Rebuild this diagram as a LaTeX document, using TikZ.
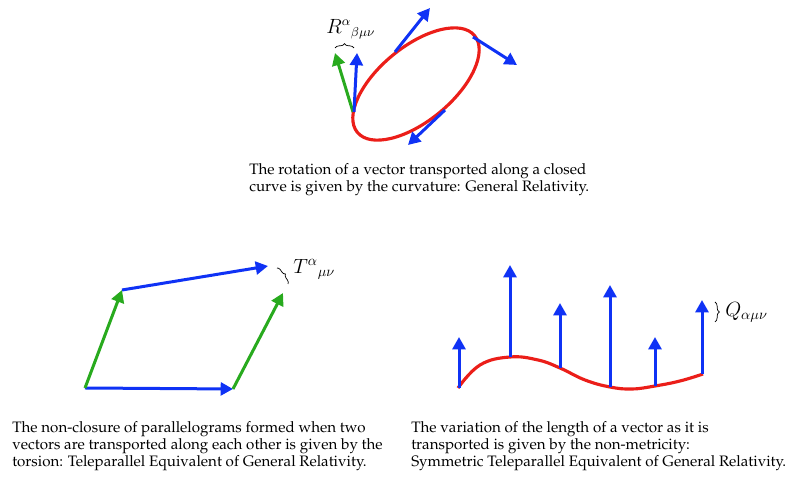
\documentclass[tikz,border=0pt]{standalone}
\usepackage[T1]{fontenc}
\usepackage{palatino}
\usetikzlibrary{arrows.meta,decorations.pathreplacing}
\definecolor{vblue}{RGB}{15,50,245}
\definecolor{vgreen}{RGB}{40,170,30}
\definecolor{vred}{RGB}{235,30,25}
\begin{document}
\begin{tikzpicture}[x=0.7pt,y=-0.7pt,
  vecline/.style={line width=2.1pt,-{Triangle[length=8.6pt,width=9pt]}},
  bvec/.style={vecline,vblue},
  gvec/.style={vecline,vgreen},
  redcurve/.style={line width=2.2pt,vred},
  brc/.style={decorate,decoration={brace,amplitude=#1},line width=0.5pt,black},
  captext/.style={anchor=north west,inner sep=0pt,align=left,font=\fontsize{10.6}{11.9}\selectfont},
  mlab/.style={inner sep=0pt,font=\fontsize{#1}{16}\selectfont}]
\useasboundingbox (0,0) rectangle (800,487);

% ---------- curvature ----------
\coordinate (ec) at (416,84);
\draw[redcurve,rotate around={39.5:(ec)}] (ec) ellipse [x radius=76, y radius=37];
\coordinate (p0) at (353,112);
\coordinate (p1) at (354,112);
\coordinate (gtip) at (335,53);
\coordinate (btip) at (357,53);
\draw[gvec] (p0) -- (gtip);
\draw[bvec] (p1) -- (btip);
\coordinate (t1a) at (395,52);  \coordinate (t1b) at (430,8);
\coordinate (t2a) at (473,37);  \coordinate (t2b) at (517,65);
\coordinate (t3a) at (445,110); \coordinate (t3b) at (408,145);
\draw[bvec] (t1a) -- (t1b);
\draw[bvec] (t2a) -- (t2b);
\draw[bvec] (t3a) -- (t3b);
\coordinate (rb1) at (335,48); \coordinate (rb2) at (354,48);
\draw[brc=3pt] (rb1) -- (rb2);
\node[mlab=13.5,anchor=south west] (rlab) at (326,39) {$R^{\alpha}{}_{\beta\mu\nu}$};
\node[captext] (capR) at (249,163) {The rotation of a vector transported along a closed\\curve is given by the curvature: General Relativity.};

% ---------- torsion ----------
\coordinate (o) at (85,388);
\coordinate (a) at (233,389);
\coordinate (b) at (122,290);
\coordinate (c) at (268,266);
\coordinate (d) at (283,293);
\draw[bvec] (o) -- (a);
\draw[gvec] (o) -- (b);
\draw[bvec] (b) -- (c);
\draw[gvec] (a) -- (d);
\coordinate (tb1) at (277,268); \coordinate (tb2) at (288,284);
\draw[brc=2.5pt] (tb1) -- (tb2);
\node[mlab=14.5,anchor=west] (tlab) at (293,269) {$T^{\alpha}{}_{\mu\nu}$};
\node[captext] (capT) at (12,421) {The non-closure of parallelograms formed when two\\vectors are transported along each other is given by the\\torsion: Teleparallel Equivalent of General Relativity.};

% ---------- non-metricity ----------
\draw[redcurve] plot[smooth,tension=0.7] coordinates {(458,388) (480,365) (510,357) (538,360) (560,368) (585,380) (610,387) (632,389) (655,386) (680,381) (703,374)};
\coordinate (n1a) at (459,388); \coordinate (n1b) at (459,337);
\coordinate (n2a) at (510,357); \coordinate (n2b) at (510,265);
\coordinate (n3a) at (560,368); \coordinate (n3b) at (560,303);
\coordinate (n4a) at (610,387); \coordinate (n4b) at (610,285);
\coordinate (n5a) at (655,386); \coordinate (n5b) at (655,337);
\coordinate (n6a) at (702,374); \coordinate (n6b) at (702,300);
\draw[bvec] (n1a) -- (n1b);
\draw[bvec] (n2a) -- (n2b);
\draw[bvec] (n3a) -- (n3b);
\draw[bvec] (n4a) -- (n4b);
\draw[bvec] (n5a) -- (n5b);
\draw[bvec] (n6a) -- (n6b);
\coordinate (qb1) at (715,302); \coordinate (qb2) at (715,322);
\draw[brc=3pt] (qb1) -- (qb2);
\node[mlab=14.5,anchor=west] (qlab) at (725,312) {$Q_{\alpha\mu\nu}$};
\node[captext] (capQ) at (411,421) {The variation of the length of a vector as it is\\transported is given by the non-metricity:\\Symmetric Teleparallel Equivalent of General Relativity.};
\end{tikzpicture}
\end{document}
